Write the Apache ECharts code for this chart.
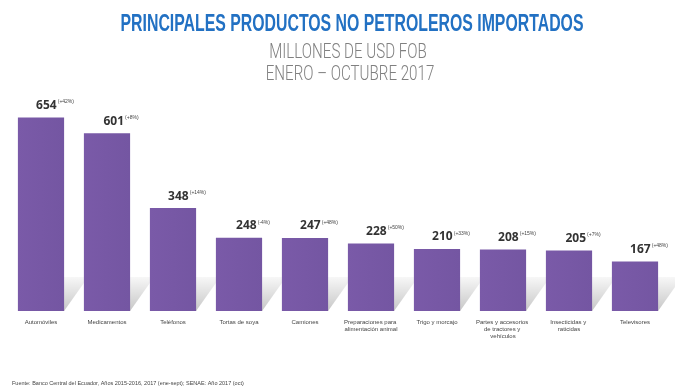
<!DOCTYPE html>
<html><head><meta charset="utf-8">
<script src="https://cdn.jsdelivr.net/npm/echarts@6/dist/echarts.min.js"></script>
<style>html,body{margin:0;padding:0;background:#fff}#c{width:675px;height:392px}</style>
</head><body><div id="c"></div>
<script>
const categories = ["Automóviles","Medicamentos","Teléfonos","Tortas de soya","Camiones","Preparaciones para alimentación animal","Trigo y morcajo","Partes y accesorios de tractores y vehículos","Insecticidas y raticidas","Televisores"];
const values = [654, 601, 348, 248, 247, 228, 210, 208, 205, 167];
const changes = ["(+42%)","(+8%)","(+14%)","(-4%)","(+48%)","(+50%)","(+33%)","(+15%)","(+7%)","(+48%)"];
const titleText = 'PRINCIPALES PRODUCTOS NO PETROLEROS IMPORTADOS';
const subtitle1 = 'MILLONES DE USD FOB';
const subtitle2 = 'ENERO – OCTUBRE 2017';
const sourceText = 'Fuente: Banco Central del Ecuador, Años 2015-2016, 2017 (ene-sept); SENAE: Año 2017 (oct)';

const chart = echarts.init(document.getElementById('c'), null, {renderer:'canvas'});
chart.setOption({
  backgroundColor:'#fff',
  animation:false,
  graphic:[
    {type:'text', x:352, y:12, scaleX:0.66, z:10,
     style:{text:titleText, textAlign:'center', textVerticalAlign:'top',
       font:'bold 24px "Liberation Sans", sans-serif', fill:'#2271c3'}},
    {type:'text', x:348, y:42, scaleX:0.72, z:10,
     style:{text:subtitle1, textAlign:'center', textVerticalAlign:'top',
       font:'300 21px Roboto, sans-serif', fill:'#808080'}},
    {type:'text', x:350, y:64, scaleX:0.72, z:10,
     style:{text:subtitle2, textAlign:'center', textVerticalAlign:'top',
       font:'300 21px Roboto, sans-serif', fill:'#808080'}},
    {type:'text', x:12, y:380, z:10,
     style:{text:sourceText, textAlign:'left', textVerticalAlign:'top',
       font:'5.5px "Liberation Sans", sans-serif', fill:'#444'}}
  ],
  grid:{left:8, right:7, top:104, bottom:81},
  xAxis:{type:'category', data:categories,
    axisLine:{show:false}, axisTick:{show:false},
    axisLabel:{interval:0, fontSize:6, color:'#444', lineHeight:7, margin:8,
      width:58, overflow:'break', fontFamily:'"Liberation Sans",sans-serif'}},
  yAxis:{type:'value', min:0, max:700, show:false, splitLine:{show:false}},
  series:[
  {
    type:'custom', z:1, silent:true,
    data:values.map((v,i)=>[i,v]),
    renderItem:(params, api)=>{
      const p = api.coord([api.value(0), 0]);
      const band = api.size([1,0])[0];
      const w = band*0.7;
      const xl = p[0]-w/2, xr = p[0]+w/2, yb = p[1];
      const dx = 24, dy = 34;
      return {type:'polygon', shape:{points:[[xl+6,yb],[xr,yb],[xr+dx,yb-dy],[xl+6+dx,yb-dy]]},
        style:{fill:{type:'linear',x:0,y:1,x2:0,y2:0,colorStops:[{offset:0,color:'rgba(0,0,0,0.22)'},{offset:1,color:'rgba(0,0,0,0.03)'}]}}};
    }
  },
  {
    type:'bar', barWidth:'70%', z:2,
    data:values,
    itemStyle:{color:{type:'linear',x:0,y:0,x2:1,y2:0,colorStops:[{offset:0,color:'#7a5aa8'},{offset:1,color:'#7456a2'}]}},
    label:{show:true, position:'top', offset:[14,-2], distance:4,
      formatter:(p)=>'{v|'+p.value+'}{s| }{p|'+changes[p.dataIndex]+'}',
      rich:{
        v:{fontFamily:'"Open Sans","DejaVu Sans",sans-serif', fontWeight:'bold', fontSize:12, color:'#333', verticalAlign:'bottom'},
        s:{fontSize:4},
        p:{fontFamily:'"Liberation Sans",sans-serif', fontSize:5, color:'#444', verticalAlign:'top', padding:[0,0,6,0]}
      }}
  }]
});
</script></body></html>
